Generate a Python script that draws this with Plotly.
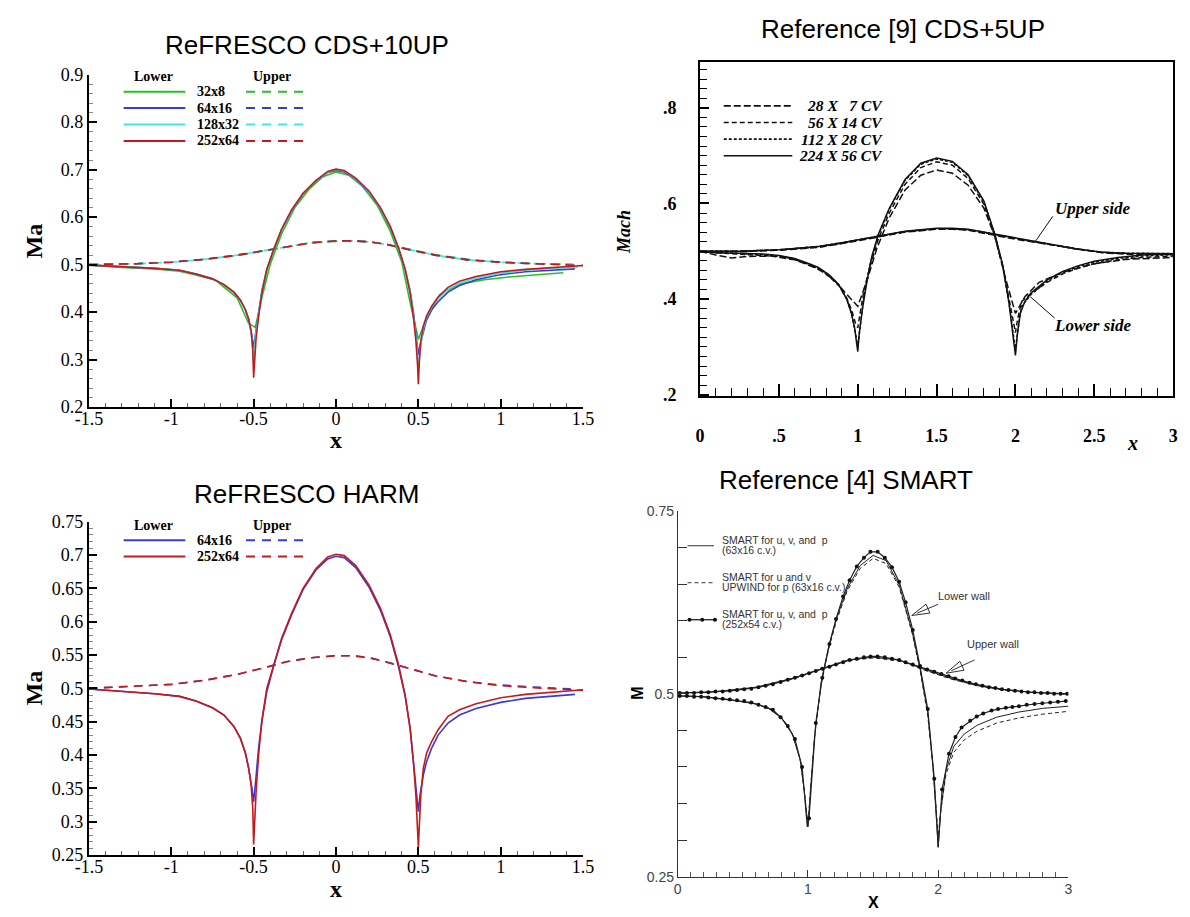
import math
import plotly.graph_objects as go

W, H = 1190, 917

# ---------------------------------------------------------------- data ----
# ReFRESCO CDS+10UP, lower wall
tl_x_32 = [-1.5, -1.3, -1.1, -0.95, -0.85, -0.73, -0.6, -0.53, -0.49, -0.45, -0.4, -0.33, -0.25, -0.16,
           -0.08, 0, 0.08, 0.16, 0.25, 0.33, 0.4, 0.45, 0.5, 0.53, 0.63, 0.75, 0.9, 1.05, 1.2, 1.38]
tl_y_32 = [0.5, 0.494, 0.491, 0.486, 0.478, 0.467, 0.43, 0.376, 0.368, 0.43, 0.50, 0.565, 0.62, 0.66,
           0.685, 0.695, 0.688, 0.665, 0.625, 0.57, 0.505, 0.42, 0.343, 0.37, 0.437, 0.459, 0.468, 0.474,
           0.478, 0.483]
tl_x_64 = [-1.5, -1.3, -1.1, -0.95, -0.85, -0.75, -0.68, -0.62, -0.58, -0.55, -0.53, -0.51, -0.5, -0.49,
           -0.47, -0.45, -0.42, -0.38, -0.33, -0.27, -0.2, -0.12, -0.05, 0, 0.05, 0.12, 0.2, 0.27, 0.33,
           0.38, 0.42, 0.45, 0.47, 0.49, 0.5, 0.51, 0.53, 0.55, 0.58, 0.62, 0.68, 0.75, 0.85, 1.0, 1.15,
           1.3, 1.45]
tl_y_64 = [0.499, 0.496, 0.492, 0.488, 0.480, 0.470, 0.458, 0.442, 0.425, 0.405, 0.385, 0.35, 0.325, 0.35,
           0.40, 0.445, 0.49, 0.53, 0.573, 0.613, 0.648, 0.676, 0.694, 0.698, 0.695, 0.68, 0.653, 0.618,
           0.578, 0.533, 0.49, 0.445, 0.40, 0.34, 0.31, 0.33, 0.36, 0.385, 0.405, 0.422, 0.442, 0.456,
           0.468, 0.479, 0.485, 0.488, 0.491]
tl_x_128 = [-1.5, -1.3, -1.1, -0.95, -0.85, -0.75, -0.68, -0.62, -0.58, -0.55, -0.53, -0.51, -0.5, -0.49,
            -0.47, -0.45, -0.42, -0.38, -0.33, -0.27, -0.2, -0.12, -0.05, 0, 0.05, 0.12, 0.2, 0.27, 0.33,
            0.38, 0.42, 0.45, 0.47, 0.49, 0.5, 0.51, 0.53, 0.55, 0.58, 0.62, 0.68, 0.75, 0.85, 1.0, 1.15,
            1.3, 1.47]
tl_y_128 = [0.499, 0.496, 0.492, 0.488, 0.480, 0.470, 0.458, 0.442, 0.425, 0.405, 0.385, 0.345, 0.29,
            0.345, 0.395, 0.442, 0.49, 0.53, 0.574, 0.614, 0.649, 0.677, 0.695, 0.700, 0.697, 0.681,
            0.654, 0.619, 0.579, 0.534, 0.49, 0.443, 0.395, 0.33, 0.28, 0.32, 0.365, 0.39, 0.41, 0.428,
            0.448, 0.461, 0.472, 0.482, 0.488, 0.491, 0.495]
tl_x_252 = [-1.5, -1.3, -1.1, -0.95, -0.85, -0.75, -0.68, -0.62, -0.58, -0.55, -0.53, -0.515, -0.505,
            -0.5, -0.495, -0.485, -0.47, -0.45, -0.42, -0.38, -0.33, -0.27, -0.2, -0.12, -0.05, 0, 0.05,
            0.12, 0.2, 0.27, 0.33, 0.38, 0.42, 0.45, 0.47, 0.485, 0.495, 0.5, 0.505, 0.515, 0.53, 0.55,
            0.58, 0.62, 0.68, 0.75, 0.85, 1.0, 1.15, 1.3, 1.45, 1.5]
tl_y_252 = [0.499, 0.496, 0.492, 0.488, 0.480, 0.470, 0.458, 0.442, 0.425, 0.405, 0.385, 0.36, 0.32,
            0.262, 0.30, 0.345, 0.39, 0.44, 0.49, 0.53, 0.575, 0.615, 0.650, 0.678, 0.696, 0.701, 0.698,
            0.682, 0.655, 0.62, 0.58, 0.535, 0.49, 0.44, 0.39, 0.34, 0.29, 0.248, 0.29, 0.34, 0.37, 0.392,
            0.412, 0.432, 0.452, 0.465, 0.475, 0.485, 0.490, 0.494, 0.497, 0.498]

# ReFRESCO CDS+10UP, upper wall
tl_ux_32 = [-1.5, -1.2, -1.0, -0.8, -0.6, -0.45, -0.3, -0.15, 0, 0.1, 0.2, 0.3, 0.45, 0.6, 0.8, 1.0, 1.2, 1.38]
tl_uy_32 = [0.5, 0.502, 0.505, 0.511, 0.519, 0.528, 0.538, 0.546, 0.549, 0.55, 0.548, 0.543, 0.532, 0.521,
            0.511, 0.505, 0.502, 0.501]
tl_ux_64 = [-1.5, -1.2, -1.0, -0.8, -0.6, -0.45, -0.3, -0.15, 0, 0.1, 0.2, 0.3, 0.45, 0.6, 0.8, 1.0, 1.2, 1.45]
tl_uy_64 = [0.5, 0.502, 0.505, 0.511, 0.52, 0.529, 0.538, 0.546, 0.55, 0.55, 0.548, 0.543, 0.531, 0.52,
            0.51, 0.505, 0.502, 0.5]
tl_ux_128 = [-1.5, -1.2, -1.0, -0.8, -0.6, -0.45, -0.3, -0.15, 0, 0.1, 0.2, 0.3, 0.45, 0.6, 0.8, 1.0, 1.2, 1.47]
tl_uy_128 = [0.5, 0.502, 0.505, 0.511, 0.52, 0.529, 0.538, 0.546, 0.55, 0.55, 0.548, 0.543, 0.531, 0.52,
             0.51, 0.505, 0.502, 0.5]
tl_ux_252 = [-1.5, -1.2, -1.0, -0.8, -0.6, -0.45, -0.3, -0.15, 0, 0.1, 0.2, 0.3, 0.45, 0.6, 0.8, 1.0, 1.2,
             1.4, 1.5]
tl_uy_252 = [0.5, 0.502, 0.505, 0.511, 0.52, 0.529, 0.538, 0.546, 0.550, 0.550, 0.548, 0.543, 0.531, 0.52,
             0.51, 0.505, 0.502, 0.5, 0.498]

# Reference [9] CDS+5UP, lower side
tr_x_28 = [0, 0.1, 0.2, 0.3, 0.45, 0.6, 0.75, 0.85, 0.93, 1.0, 1.06, 1.12, 1.2, 1.3, 1.4, 1.5, 1.6, 1.7,
           1.8, 1.87, 1.94, 2.0, 2.06, 2.15, 2.3, 2.5, 2.7, 3.0]
tr_y_28 = [0.5, 0.492, 0.486, 0.489, 0.49, 0.482, 0.463, 0.44, 0.41, 0.385, 0.44, 0.505, 0.57, 0.628,
           0.659, 0.67, 0.663, 0.638, 0.59, 0.53, 0.44, 0.37, 0.405, 0.435, 0.456, 0.474, 0.483, 0.487]
tr_x_56 = [0, 0.1, 0.25, 0.4, 0.5, 0.6, 0.7, 0.8, 0.88, 0.93, 0.96, 0.985, 1.0, 1.015, 1.04, 1.08, 1.13,
           1.2, 1.3, 1.4, 1.5, 1.6, 1.7, 1.8, 1.87, 1.92, 1.96, 1.985, 2.0, 2.015, 2.04, 2.1, 2.2, 2.3,
           2.4, 2.5, 2.65, 2.8, 3.0]
tr_y_56 = [0.499, 0.497, 0.494, 0.492, 0.489, 0.483, 0.471, 0.453, 0.428, 0.402, 0.378, 0.35, 0.34,
           0.37, 0.42, 0.47, 0.525, 0.58, 0.64, 0.675, 0.687, 0.68, 0.652, 0.598, 0.53, 0.468, 0.40,
           0.35, 0.33, 0.36, 0.395, 0.412, 0.435, 0.453, 0.465, 0.474, 0.482, 0.487, 0.49]
tr_x_112 = [0, 0.1, 0.25, 0.4, 0.5, 0.6, 0.7, 0.8, 0.88, 0.93, 0.96, 0.985, 1.0, 1.015, 1.04, 1.08, 1.13,
            1.2, 1.3, 1.4, 1.5, 1.6, 1.7, 1.8, 1.87, 1.92, 1.96, 1.985, 2.0, 2.015, 2.04, 2.1, 2.2, 2.3,
            2.4, 2.5, 2.65, 2.8, 3.0]
tr_y_112 = [0.499, 0.497, 0.495, 0.493, 0.49, 0.484, 0.472, 0.455, 0.43, 0.40, 0.37, 0.33, 0.30, 0.34,
            0.41, 0.475, 0.533, 0.588, 0.648, 0.682, 0.693, 0.686, 0.658, 0.603, 0.533, 0.468, 0.39,
            0.33, 0.292, 0.335, 0.385, 0.41, 0.437, 0.456, 0.468, 0.477, 0.485, 0.49, 0.493]
tr_x_224 = [0, 0.1, 0.25, 0.4, 0.5, 0.6, 0.7, 0.75, 0.82, 0.88, 0.93, 0.96, 0.98, 0.995, 1.0, 1.01,
            1.03, 1.06, 1.09, 1.13, 1.2, 1.3, 1.4, 1.5, 1.6, 1.7, 1.8, 1.87, 1.92, 1.96, 1.985, 2.0,
            2.01, 2.03, 2.06, 2.1, 2.2, 2.3, 2.4, 2.5, 2.65, 2.8, 3.0]
tr_y_224 = [0.499, 0.497, 0.496, 0.494, 0.491, 0.485, 0.473, 0.466, 0.45, 0.43, 0.40, 0.37, 0.34, 0.305,
            0.29, 0.33, 0.38, 0.44, 0.49, 0.535, 0.59, 0.65, 0.684, 0.695, 0.688, 0.66, 0.605, 0.535,
            0.47, 0.39, 0.32, 0.282, 0.32, 0.37, 0.395, 0.413, 0.44, 0.458, 0.47, 0.479, 0.487, 0.492,
            0.494]

# Reference [9] CDS+5UP, upper side
tr_ux = [0, 0.25, 0.5, 0.75, 0.9, 1.0, 1.15, 1.3, 1.5, 1.6, 1.7, 1.8, 1.9, 2.0, 2.2, 2.4, 2.55, 2.7, 3.0]
tr_uy_28 = [0.5, 0.499, 0.502, 0.508, 0.516, 0.522, 0.531, 0.54, 0.546, 0.546, 0.544, 0.538, 0.531,
            0.525, 0.515, 0.504, 0.497, 0.494, 0.493]
tr_uy_56 = [0.5, 0.5, 0.503, 0.509, 0.517, 0.523, 0.532, 0.541, 0.547, 0.547, 0.545, 0.539, 0.532,
            0.526, 0.515, 0.504, 0.498, 0.495, 0.494]
tr_uy_112 = [0.5, 0.5, 0.503, 0.51, 0.518, 0.524, 0.533, 0.541, 0.547, 0.547, 0.545, 0.54, 0.533,
             0.527, 0.516, 0.504, 0.498, 0.496, 0.495]
tr_uy_224 = [0.5, 0.5, 0.503, 0.51, 0.518, 0.524, 0.533, 0.542, 0.548, 0.548, 0.546, 0.54, 0.533,
             0.527, 0.516, 0.504, 0.498, 0.496, 0.495]

# ReFRESCO HARM, lower wall
bl_x_64 = [-1.5, -1.3, -1.1, -0.95, -0.85, -0.75, -0.68, -0.62, -0.58, -0.55, -0.53, -0.51, -0.5, -0.49,
           -0.47, -0.45, -0.42, -0.38, -0.33, -0.27, -0.2, -0.12, -0.05, 0, 0.05, 0.12, 0.2, 0.27, 0.33,
           0.38, 0.42, 0.45, 0.47, 0.49, 0.5, 0.51, 0.53, 0.55, 0.58, 0.62, 0.68, 0.75, 0.85, 1.0, 1.15,
           1.3, 1.45]
bl_y_64 = [0.499, 0.496, 0.492, 0.488, 0.481, 0.471, 0.46, 0.443, 0.425, 0.403, 0.38, 0.35, 0.33, 0.355,
           0.41, 0.45, 0.495, 0.532, 0.573, 0.61, 0.648, 0.678, 0.694, 0.698, 0.696, 0.681, 0.652, 0.617,
           0.577, 0.532, 0.488, 0.44, 0.395, 0.34, 0.315, 0.34, 0.37, 0.39, 0.41, 0.43, 0.448, 0.46,
           0.47, 0.479, 0.485, 0.488, 0.491]
bl_x_252 = [-1.5, -1.3, -1.1, -0.95, -0.85, -0.75, -0.68, -0.62, -0.58, -0.55, -0.53, -0.515, -0.505,
            -0.5, -0.495, -0.485, -0.47, -0.45, -0.42, -0.38, -0.33, -0.27, -0.2, -0.12, -0.05, 0, 0.05,
            0.12, 0.2, 0.27, 0.33, 0.38, 0.42, 0.45, 0.47, 0.485, 0.495, 0.5, 0.505, 0.515, 0.53, 0.55,
            0.58, 0.62, 0.68, 0.75, 0.85, 1.0, 1.15, 1.3, 1.45, 1.5]
bl_y_252 = [0.499, 0.496, 0.492, 0.488, 0.481, 0.471, 0.46, 0.443, 0.425, 0.403, 0.38, 0.355, 0.32,
            0.266, 0.30, 0.345, 0.40, 0.452, 0.50, 0.535, 0.575, 0.612, 0.65, 0.68, 0.697, 0.701, 0.699,
            0.684, 0.655, 0.62, 0.58, 0.535, 0.49, 0.44, 0.39, 0.34, 0.29, 0.262, 0.29, 0.34, 0.38,
            0.403, 0.42, 0.438, 0.458, 0.468, 0.477, 0.486, 0.491, 0.494, 0.497, 0.498]

# ReFRESCO HARM, upper wall
bl_ux_64 = [-1.5, -1.2, -1.0, -0.8, -0.6, -0.45, -0.3, -0.15, 0, 0.1, 0.2, 0.3, 0.45, 0.6, 0.8, 1.0, 1.2,
            1.35, 1.45]
bl_uy_64 = [0.5, 0.503, 0.506, 0.512, 0.521, 0.53, 0.54, 0.546, 0.549, 0.549, 0.546, 0.54, 0.53, 0.519,
            0.51, 0.505, 0.502, 0.5, 0.499]
bl_ux_252 = [-1.5, -1.2, -1.0, -0.8, -0.6, -0.45, -0.3, -0.15, 0, 0.1, 0.2, 0.3, 0.45, 0.6, 0.8, 1.0, 1.2,
             1.4, 1.5]
bl_uy_252 = [0.5, 0.503, 0.506, 0.512, 0.521, 0.53, 0.54, 0.546, 0.549, 0.549, 0.546, 0.54, 0.53, 0.519,
             0.51, 0.504, 0.501, 0.499, 0.497]

# Reference [4] SMART, 252x54 grid (marked points and dip minima)
br_fine_x = [0.015, 0.07, 0.125, 0.18, 0.235, 0.29, 0.345, 0.40, 0.455, 0.51, 0.565, 0.62, 0.675, 0.73,
             0.79, 0.845, 0.90, 0.955, 1.008, 1.06, 1.11, 1.165, 1.215, 1.27, 1.32, 1.375, 1.43, 1.48,
             1.535, 1.59, 1.645, 1.70, 1.75, 1.805, 1.86, 1.92, 1.97, 2.03, 2.083, 2.133, 2.18, 2.246,
             2.296, 2.346, 2.41, 2.46, 2.52, 2.57, 2.62, 2.68, 2.74, 2.80, 2.86, 2.92, 2.98]
br_fine_y = [0.497, 0.497, 0.496, 0.496, 0.495, 0.494, 0.493, 0.492, 0.491, 0.490, 0.488, 0.485, 0.482,
             0.478, 0.468, 0.456, 0.438, 0.400, 0.330, 0.46, 0.522, 0.568, 0.602, 0.633, 0.655, 0.674,
             0.686, 0.694, 0.694, 0.686, 0.673, 0.653, 0.625, 0.587, 0.538, 0.479, 0.384, 0.369, 0.418,
             0.441, 0.454, 0.463, 0.469, 0.473, 0.477, 0.479, 0.481, 0.482, 0.483, 0.485, 0.486, 0.487,
             0.488, 0.489, 0.49]
br_fine_tip_x = [0.995, 2.0]
br_fine_tip_y = [0.318, 0.291]
br_fine_ux = [0.015, 0.07, 0.125, 0.18, 0.235, 0.29, 0.345, 0.40, 0.455, 0.51, 0.565, 0.62, 0.675, 0.73,
              0.79, 0.845, 0.90, 0.955, 1.008, 1.06, 1.11, 1.165, 1.215, 1.27, 1.32, 1.375, 1.43, 1.48,
              1.535, 1.59, 1.645, 1.70, 1.75, 1.805, 1.86, 1.915, 1.97, 2.025, 2.08, 2.13, 2.185, 2.24,
              2.29, 2.34, 2.39, 2.44, 2.49, 2.54, 2.59, 2.64, 2.69, 2.74, 2.79, 2.84, 2.89, 2.94, 2.99]
br_fine_uy = [0.501, 0.501, 0.501, 0.502, 0.502, 0.503, 0.503, 0.504, 0.505, 0.506, 0.507, 0.509, 0.511,
              0.513, 0.516, 0.519, 0.522, 0.525, 0.528, 0.531, 0.534, 0.537, 0.54, 0.543, 0.546, 0.548,
              0.55, 0.551, 0.551, 0.55, 0.548, 0.546, 0.543, 0.54, 0.537, 0.533, 0.53, 0.527, 0.524,
              0.521, 0.518, 0.515, 0.513, 0.511, 0.509, 0.508, 0.506, 0.505, 0.504, 0.503, 0.502, 0.502,
              0.501, 0.501, 0.5, 0.5, 0.5]

# Reference [4] SMART, 63x16 grid, SMART for u, v, p (solid) and UPWIND for p (dashed)
br_x_63 = [0, 0.2, 0.4, 0.6, 0.7, 0.8, 0.88, 0.94, 0.97, 0.99, 1.0, 1.02, 1.05, 1.1, 1.16, 1.22, 1.3, 1.4,
           1.5, 1.6, 1.7, 1.8, 1.86, 1.92, 1.96, 1.99, 2.0, 2.02, 2.06, 2.12, 2.2, 2.3, 2.45, 2.62, 2.8, 3.0]
br_y_smart = [0.497, 0.496, 0.492, 0.486, 0.48, 0.466, 0.445, 0.41, 0.37, 0.33, 0.318, 0.37, 0.44, 0.515,
              0.565, 0.603, 0.643, 0.675, 0.689, 0.682, 0.649, 0.585, 0.535, 0.474, 0.40, 0.32, 0.29,
              0.34, 0.395, 0.428, 0.445, 0.457, 0.468, 0.475, 0.48, 0.483]
br_y_upwind = [0.497, 0.496, 0.492, 0.486, 0.48, 0.466, 0.445, 0.41, 0.37, 0.33, 0.32, 0.37, 0.44, 0.512,
               0.562, 0.60, 0.64, 0.671, 0.685, 0.678, 0.646, 0.583, 0.533, 0.47, 0.40, 0.33, 0.305,
               0.34, 0.39, 0.42, 0.437, 0.449, 0.46, 0.467, 0.472, 0.476]
br_ux_63 = [0, 0.3, 0.6, 0.9, 1.1, 1.3, 1.5, 1.7, 1.9, 2.1, 2.3, 2.5, 2.7, 3.0]
br_uy_smart = [0.501, 0.503, 0.509, 0.522, 0.534, 0.546, 0.55, 0.546, 0.533, 0.521, 0.512, 0.506, 0.502, 0.5]
br_uy_upwind = [0.501, 0.503, 0.508, 0.521, 0.533, 0.545, 0.549, 0.545, 0.532, 0.52, 0.511, 0.505, 0.502, 0.499]

GREEN, BLUE, CYAN, RED = "#27c227", "#3a3ad8", "#3ee6e6", "#c41a1a"
SERIF = "Liberation Serif"
SANS = "Liberation Sans"


def px(x):
    return x / W


def py(y):
    return 1 - y / H


fig = go.Figure()


def line(x, y, axes, color, width=1.6, dash="solid", **kw):
    fig.add_trace(go.Scatter(x=x, y=y, xaxis=axes[0], yaxis=axes[1], mode="lines",
                             line=dict(color=color, width=width, dash=dash),
                             showlegend=False, hoverinfo="skip", **kw))


UP_DASH = "9px,6px"

# ReFRESCO CDS+10UP
A1 = ("x", "y")
for ux, uy, c, d in [(tl_ux_32, tl_uy_32, GREEN, "10px,5px"), (tl_ux_64, tl_uy_64, BLUE, "8px,7px"),
                     (tl_ux_128, tl_uy_128, CYAN, "9px,7px"), (tl_ux_252, tl_uy_252, RED, UP_DASH)]:
    line(ux, uy, A1, c, dash=d)
for lx, ly, c in [(tl_x_32, tl_y_32, GREEN), (tl_x_64, tl_y_64, BLUE),
                  (tl_x_128, tl_y_128, CYAN), (tl_x_252, tl_y_252, RED)]:
    line(lx, ly, A1, c)

# Reference [9] CDS+5UP
A2 = ("x2", "y2")
TR_DASH = {"28": "7px,3px", "56": "5px,3px", "112": "3px,2px", "224": "solid"}
for key, lx, ly, uy in [("28", tr_x_28, tr_y_28, tr_uy_28), ("56", tr_x_56, tr_y_56, tr_uy_56),
                        ("112", tr_x_112, tr_y_112, tr_uy_112), ("224", tr_x_224, tr_y_224, tr_uy_224)]:
    line(lx, ly, A2, "#111", width=1.5, dash=TR_DASH[key])
    line(tr_ux, uy, A2, "#111", width=1.5, dash=TR_DASH[key])

# ReFRESCO HARM
A3 = ("x3", "y3")
line(bl_ux_64, bl_uy_64, A3, BLUE, dash="8px,7px")
line(bl_ux_252, bl_uy_252, A3, RED, dash=UP_DASH)
line(bl_x_64, bl_y_64, A3, BLUE)
line(bl_x_252, bl_y_252, A3, RED)

# Reference [4] SMART
A4 = ("x4", "y4")
line(br_x_63, br_y_smart, A4, "#222", width=1)
line(br_x_63, br_y_upwind, A4, "#222", width=1, dash="4px,3px")
line(br_ux_63, br_uy_smart, A4, "#222", width=1)
line(br_ux_63, br_uy_upwind, A4, "#222", width=1, dash="4px,3px")
fine = sorted(zip(br_fine_x + br_fine_tip_x, br_fine_y + br_fine_tip_y))
line([p[0] for p in fine], [p[1] for p in fine], A4, "#222", width=1.2)
fig.add_trace(go.Scatter(x=br_fine_x, y=br_fine_y, xaxis="x4", yaxis="y4", mode="markers",
                         marker=dict(color="#111", size=4), showlegend=False, hoverinfo="skip"))
line(br_fine_ux, br_fine_uy, A4, "#222", width=1.2)
fig.add_trace(go.Scatter(x=br_fine_ux, y=br_fine_uy, xaxis="x4", yaxis="y4", mode="markers",
                         marker=dict(color="#111", size=4), showlegend=False, hoverinfo="skip"))

# ---------------------------------------------------------------- axes ----
def refresco_axes(xdom, ydom, yvals, ylabels, yminor):
    xa = dict(domain=xdom, range=[-1.5, 1.5], showline=True, linecolor="black", linewidth=2,
              ticks="inside", ticklen=8, tickwidth=1.5, tickcolor="black",
              tickvals=[-1.5, -1, -0.5, 0, 0.5, 1, 1.5],
              ticktext=["-1.5", "-1", "-0.5", "0", "0.5", "1", "1.5"],
              tickfont=dict(family=SERIF, size=18, color="black"), ticklabelstandoff=-6,
              showgrid=False, zeroline=False,
              minor=dict(ticks="inside", ticklen=4, tickwidth=1, tickcolor="#666",
                         tick0=-1.5, dtick=0.1, showgrid=False))
    ya = dict(domain=ydom, range=[yvals[0], yvals[-1]], showline=True, linecolor="black", linewidth=2,
              ticks="inside", ticklen=8, tickwidth=1.5, tickcolor="black",
              tickvals=yvals, ticktext=ylabels,
              tickfont=dict(family=SERIF, size=18, color="black"),
              showgrid=False, zeroline=False,
              minor=dict(ticks="inside", ticklen=4, tickwidth=1, tickcolor="#888",
                         tick0=yvals[0], dtick=yminor, showgrid=False))
    return xa, ya


tl_yticks = [0.2, 0.3, 0.4, 0.5, 0.6, 0.7, 0.8, 0.9]
bl_yticks = [0.25, 0.3, 0.35, 0.4, 0.45, 0.5, 0.55, 0.6, 0.65, 0.7, 0.75]
xa1, ya1 = refresco_axes([px(76.5), px(581.3)], [py(406), py(66)], tl_yticks,
                         ["0.2", "0.3", "0.4", "0.5", "0.6", "0.7", "0.8", "0.9"], 0.02)
xa3, ya3 = refresco_axes([px(76.5), px(581.3)], [py(864), py(523)], bl_yticks,
                         ["0.25", "0.3", "0.35", "0.4", "0.45", "0.5", "0.55", "0.6", "0.65", "0.7", "0.75"],
                         0.01)
ya1["anchor"] = "x"
xa1["anchor"] = "y"
ya3["anchor"] = "x3"
xa3["anchor"] = "y3"

tr_xticks = [0, 0.5, 1, 1.5, 2, 2.5, 3]
tr_yticks = [0.2, 0.4, 0.6, 0.8]
bold_serif = dict(family=SERIF, size=18, color="black", weight="bold")
xa2 = dict(domain=[px(700.8), px(1184)], range=[0, 3], anchor="y2", showline=True, mirror=True,
           linecolor="black", linewidth=2, ticks="inside", ticklen=12, tickwidth=1.5, tickcolor="black",
           tickvals=tr_xticks, ticktext=["0", ".5", "1", "1.5", "2", "2.5", "3"], tickfont=bold_serif,
           ticklabelstandoff=22, showgrid=False, zeroline=False,
           minor=dict(ticks="inside", ticklen=8, tickwidth=1.3, tickcolor="black", tick0=0, dtick=0.1,
                      showgrid=False))
ya2 = dict(domain=[py(395), py(52.7)], range=[0.1965, 0.8967], anchor="x2", showline=True, mirror=True,
           linecolor="black", linewidth=2, ticks="inside", ticklen=9, tickwidth=1.5, tickcolor="black",
           tickvals=tr_yticks, ticktext=[".2", ".4", ".6", ".8"], tickfont=bold_serif,
           ticklabelstandoff=18, showgrid=False, zeroline=False,
           minor=dict(ticks="inside", ticklen=7, tickwidth=1.3, tickcolor="black", tick0=0.2, dtick=0.02,
                      showgrid=False))

br_yticks = [0.25, 0.3, 0.35, 0.4, 0.45, 0.5, 0.55, 0.6, 0.65, 0.7, 0.75]
br_ylabels = ["0.25", "", "", "", "", "0.5", "", "", "", "", "0.75"]
gray_sans = dict(family=SANS, size=14, color="#444")
xa4 = dict(domain=[px(678), px(1077)], range=[0, 3], anchor="y4", showline=True, linecolor="#333",
           linewidth=1, ticks="inside", ticklen=7, tickwidth=1, tickcolor="#333",
           tickvals=[0, 1, 2, 3], ticktext=["0", "1", "2", "3"], tickfont=gray_sans,
           showgrid=False, zeroline=False,
           minor=dict(ticks="inside", ticklen=5, tickwidth=1, tickcolor="#555", tick0=0, dtick=0.1,
                      showgrid=False))
ya4 = dict(domain=[py(886), py(512)], range=[0.25, 0.75], anchor="x4", showline=True, linecolor="#333",
           linewidth=1, ticks="inside", ticklen=9, tickwidth=1, tickcolor="#333",
           tickvals=br_yticks, ticktext=br_ylabels, tickfont=gray_sans,
           showgrid=False, zeroline=False)

# ------------------------------------------------------ text & legends ----
ann = []
shapes = []


def note(text, x, y, size, family=SANS, color="black", xanchor="center", angle=0, **kw):
    ann.append(dict(text=text, x=px(x), y=py(y), xref="paper", yref="paper", showarrow=False,
                    xanchor=xanchor, yanchor="middle", textangle=angle,
                    font=dict(family=family, size=size, color=color, **kw)))


def seg(x0, y0, x1, y1, color="black", width=1.5, dash="solid"):
    shapes.append(dict(type="line", xref="paper", yref="paper", x0=px(x0), y0=py(y0), x1=px(x1),
                       y1=py(y1), line=dict(color=color, width=width, dash=dash)))


# titles
note("ReFRESCO CDS+10UP", 299, 36, 26)
note("Reference [9] CDS+5UP", 908.5, 19, 26)
note("ReFRESCO HARM", 298.5, 495, 26)
note("Reference [4] SMART", 850, 480, 26)

# ReFRESCO axis titles
note("Ma", 20, 236, 24, family=SERIF, angle=-90, weight="bold")
note("x", 329, 440, 24, family=SERIF, weight="bold")
note("Ma", 20, 693, 24, family=SERIF, angle=-90, weight="bold")
note("x", 329, 899, 24, family=SERIF, weight="bold")

# ReFRESCO legends
def refresco_legend(top, labels, colors):
    note("Lower", 143, top, 14, family=SERIF, weight="bold")
    note("Upper", 264, top, 14, family=SERIF, weight="bold")
    for i, (lab, col) in enumerate(zip(labels, colors)):
        yy = top + 15.5 + 16.8 * i
        seg(112, yy, 175, yy, col, 2)
        seg(237, yy, 299, yy, col, 2, dash="9px,7px")
        note(lab, 185, yy, 14, family=SERIF, xanchor="left", weight="bold")


refresco_legend(68, ["32x8", "64x16", "128x32", "252x64"], [GREEN, BLUE, CYAN, RED])
refresco_legend(526.5, ["64x16", "252x64"], [BLUE, RED])

# Reference [9] legend and labels
for i, (lab, key) in enumerate([("28 X \u20077 CV", "28"), ("56 X 14 CV", "56"),
                                ("112 X 28 CV", "112"), ("224 X 56 CV", "224")]):
    yy = 98 + 17 * i
    seg(725, yy, 795, yy, "#111", 1.6, TR_DASH[key])
    note(lab, 890, yy, 15.5, family=SERIF, xanchor="right", weight="bold", style="italic")
note("Mach", 623, 227, 18, family=SERIF, angle=-90, weight="bold", style="italic")
note("x", 1142, 443, 20, family=SERIF, weight="bold", style="italic")
note("Upper side", 1102, 203, 17, family=SERIF, weight="bold", style="italic")
note("Lower side", 1102, 323, 17, family=SERIF, weight="bold", style="italic")
seg(1061, 211, 1043, 237, "#111", 1)
seg(1063, 315, 1038, 293, "#111", 1)

# Reference [4] legend and labels
note("M", 637.5, 699, 16, angle=-90, weight="bold")
note("X", 878, 912, 16, weight="bold")
small = dict(family=SANS, color="#333")
for i, (l1, l2) in enumerate([("SMART for u, v, and  p", "(63x16 c.v.)"),
                              ("SMART for u and v", "UPWIND for p (63x16 c.v.)"),
                              ("SMART for u, v, and  p", "(252x54 c.v.)")]):
    yy = 547.7 + 37.8 * i
    note(l1, 721.5, yy - 6, 10.5, xanchor="left", **small)
    note(l2, 721.5, yy + 4.5, 10.5, xanchor="left", **small)
seg(688, 547.7, 715, 547.7, "#333", 1)
seg(688, 585.5, 715, 585.5, "#333", 1, "4px,3px")
seg(688, 623.3, 718, 623.3, "#222", 1.3)
for mx in (690, 703, 716):
    shapes.append(dict(type="circle", xref="paper", yref="paper", x0=px(mx - 2), x1=px(mx + 2),
                       y0=py(623.3 + 2), y1=py(623.3 - 2), fillcolor="#111", line=dict(width=0)))
note("Lower wall", 970, 599, 11, **small)
note("Upper wall", 1000, 648, 11, **small)


def hollow_arrow(tip, tail, length=18, half=5):
    dx, dy = tail[0] - tip[0], tail[1] - tip[1]
    d = math.hypot(dx, dy)
    ux, uy = dx / d, dy / d
    bx, by = tip[0] + ux * length, tip[1] + uy * length
    nx, ny = -uy, ux
    p1 = (bx + nx * half, by + ny * half)
    p2 = (bx - nx * half, by - ny * half)
    path = (f"M {px(tip[0])},{py(tip[1])} L {px(p1[0])},{py(p1[1])} "
            f"L {px(p2[0])},{py(p2[1])} Z")
    shapes.append(dict(type="path", xref="paper", yref="paper", path=path, fillcolor="white",
                       line=dict(color="#333", width=1)))
    seg(tip[0] + ux * 6, tip[1] + uy * 6, tail[0], tail[1], "#333", 1)


hollow_arrow((917, 619), (944, 607.5))
hollow_arrow((952, 678), (981, 664.5))

fig.update_layout(
    width=W, height=H, autosize=False, margin=dict(l=0, r=0, t=0, b=0),
    paper_bgcolor="white", plot_bgcolor="white", showlegend=False,
    xaxis=xa1, yaxis=ya1, xaxis2=xa2, yaxis2=ya2, xaxis3=xa3, yaxis3=ya3, xaxis4=xa4, yaxis4=ya4,
    annotations=ann, shapes=shapes,
)

fig.write_html("out.html")
